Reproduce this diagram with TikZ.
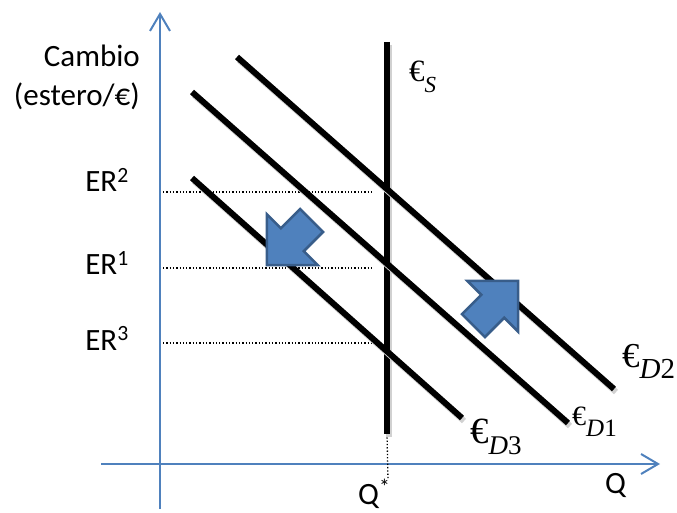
\documentclass[tikz,border=0pt]{standalone}
\usepackage{fontspec}
\setmainfont{Carlito}
\newfontfamily\eurofont{Liberation Serif}
\usepackage{tikz}
\usetikzlibrary{arrows.meta, positioning, shapes.arrows}
\definecolor{axisblue}{RGB}{79,129,189}
\definecolor{arrowedge}{RGB}{56,93,138}
\newcommand{\eurlabel}[3]{{\eurofont\fontsize{#1}{#1}\selectfont €}{\eurofont\fontsize{#2}{#2}\selectfont\raisebox{-11pt}{#3}}}
\tikzset{
	axisline/.style={draw=axisblue, line width=2pt, -{Straight Barb[length=17pt, width=20pt]}},
	curveline/.style={line width=6pt, black, preaction={draw=black!18, line width=6pt, transform canvas={shift={(2pt,-3pt)}}}},
	levelline/.style={dotted, line width=1.3pt},
	shiftarrow/.style={single arrow, single arrow tip angle=90, single arrow head extend=19.5pt, draw=arrowedge, line width=2.5pt, fill=axisblue, inner xsep=0pt, inner ysep=15pt, minimum height=63pt},
	axislbl/.style={font=\fontsize{31}{36}\selectfont, inner sep=0pt},
}
\begin{document}
\begin{tikzpicture}[x=1pt, y=1pt]
		\useasboundingbox (0,0) rectangle (677,512);

		% Axes
		\coordinate (yfoot) at (160,3);
		\coordinate (ytop) at (160,500);
		\coordinate (xfoot) at (101,48);
		\coordinate (xend) at (660,48);
		\draw[axisline] (yfoot) -- (ytop);
		\draw[axisline] (xfoot) -- (xend);

		% Exchange rate levels
		\coordinate (lvlA) at (163,320);
		\coordinate (lvlAend) at (373,320);
		\coordinate (lvlB) at (163,244);
		\coordinate (lvlBend) at (373,244);
		\coordinate (lvlC) at (163,169);
		\coordinate (lvlCend) at (373,169);
		\draw[levelline] (lvlA) -- (lvlAend);
		\draw[levelline] (lvlB) -- (lvlBend);
		\draw[levelline] (lvlC) -- (lvlCend);

		% Supply
		\coordinate (sTop) at (387,470);
		\coordinate (sBot) at (387,78);
		\coordinate (qFoot) at (388,32);
		\draw[levelline] (sBot) -- (qFoot);
		\draw[curveline] (sTop) -- (sBot);

		% Demand curves
		\coordinate (dTwoA) at (237,455);
		\coordinate (dTwoB) at (614,123);
		\coordinate (dOneA) at (192,420);
		\coordinate (dOneB) at (568,89);
		\coordinate (dThreeA) at (192,334);
		\coordinate (dThreeB) at (462,94);
		\draw[curveline] (dTwoA) -- (dTwoB);
		\draw[curveline] (dOneA) -- (dOneB);
		\draw[curveline] (dThreeA) -- (dThreeB);

		% Shifts
		\node[shiftarrow, rotate=45] (shiftUp) at (490,203) {};
		\node[shiftarrow, rotate=225] (shiftDown) at (295,275) {};

		% Curve labels
		\node[anchor=base west, inner sep=0pt] (labS) at (409,430) {\eurlabel{31}{23}{\textit{S}}};
		\node[anchor=base west, inner sep=0pt] (labDTwo) at (622,145) {\eurlabel{35}{29}{\textit{D}2}};
		\node[anchor=base west, inner sep=0pt] (labDOne) at (572,87) {\eurlabel{28}{25}{\textit{D}1}};
		\node[anchor=base west, inner sep=0pt] (labDThree) at (470,69) {\eurlabel{37}{27}{\textit{D}3}};

		% Axis labels
		\node[axislbl, anchor=base east] (cambio) at (140,445) {Cambio};
		\node[axislbl, anchor=base east] (unit) at (140,406) {(estero/€)};
		\node[axislbl, anchor=base east] (erTwo) at (129,320) {ER\textsuperscript{2}};
		\node[axislbl, anchor=base east] (erOne) at (129,237) {ER\textsuperscript{1}};
		\node[axislbl, anchor=base east] (erThree) at (129,162) {ER\textsuperscript{3}};
		\node[axislbl, anchor=base west] (qStar) at (358,8) {Q\textsuperscript{*}};
		\node[axislbl, anchor=base west] (qLab) at (605,19) {Q};
	\end{tikzpicture}
\end{document}
